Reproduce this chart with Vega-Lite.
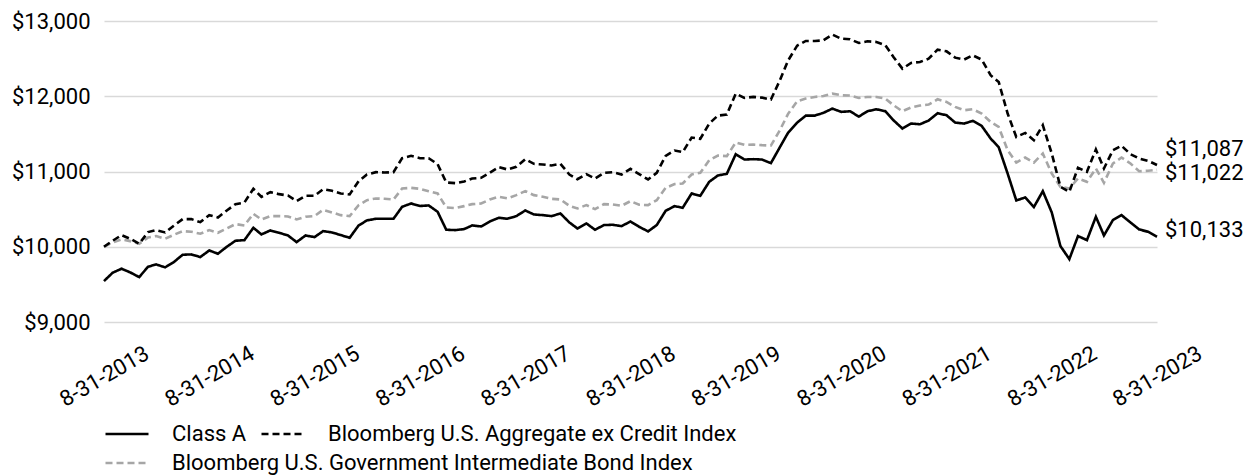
{
  "$schema": "https://vega.github.io/schema/vega-lite/v6.json",
  "autosize": "none",
  "width": 1053,
  "height": 301,
  "padding": {"left": 104, "top": 21, "right": 93, "bottom": 154},
  "background": "white",
  "config": {"font": "Roboto", "view": {"stroke": null}},
  "data": {"values": [
    {"d":"2013-08-31","A":9544,"B":10000,"G":10000},
    {"d":"2013-09-30","A":9655,"B":10080,"G":10058},
    {"d":"2013-10-31","A":9708,"B":10155,"G":10097},
    {"d":"2013-11-30","A":9659,"B":10106,"G":10075},
    {"d":"2013-12-31","A":9597,"B":10040,"G":10040},
    {"d":"2014-01-31","A":9735,"B":10195,"G":10124},
    {"d":"2014-02-28","A":9765,"B":10221,"G":10142},
    {"d":"2014-03-31","A":9726,"B":10190,"G":10106},
    {"d":"2014-04-30","A":9796,"B":10279,"G":10159},
    {"d":"2014-05-31","A":9894,"B":10367,"G":10208},
    {"d":"2014-06-30","A":9898,"B":10367,"G":10199},
    {"d":"2014-07-31","A":9863,"B":10327,"G":10173},
    {"d":"2014-08-31","A":9951,"B":10420,"G":10221},
    {"d":"2014-09-30","A":9907,"B":10389,"G":10186},
    {"d":"2014-10-31","A":10000,"B":10482,"G":10243},
    {"d":"2014-11-30","A":10080,"B":10566,"G":10301},
    {"d":"2014-12-31","A":10088,"B":10588,"G":10283},
    {"d":"2015-01-31","A":10252,"B":10770,"G":10438},
    {"d":"2015-02-28","A":10164,"B":10664,"G":10363},
    {"d":"2015-03-31","A":10217,"B":10726,"G":10407},
    {"d":"2015-04-30","A":10186,"B":10699,"G":10407},
    {"d":"2015-05-31","A":10150,"B":10681,"G":10403},
    {"d":"2015-06-30","A":10062,"B":10606,"G":10363},
    {"d":"2015-07-31","A":10150,"B":10677,"G":10398},
    {"d":"2015-08-31","A":10128,"B":10677,"G":10407},
    {"d":"2015-09-30","A":10208,"B":10765,"G":10491},
    {"d":"2015-10-31","A":10190,"B":10743,"G":10456},
    {"d":"2015-11-30","A":10155,"B":10708,"G":10420},
    {"d":"2015-12-31","A":10119,"B":10695,"G":10407},
    {"d":"2016-01-31","A":10283,"B":10872,"G":10553},
    {"d":"2016-02-29","A":10350,"B":10960,"G":10619},
    {"d":"2016-03-31","A":10372,"B":10991,"G":10642},
    {"d":"2016-04-30","A":10372,"B":10987,"G":10637},
    {"d":"2016-05-31","A":10372,"B":10991,"G":10628},
    {"d":"2016-06-30","A":10531,"B":11177,"G":10774},
    {"d":"2016-07-31","A":10575,"B":11208,"G":10783},
    {"d":"2016-08-31","A":10542,"B":11177,"G":10770},
    {"d":"2016-09-30","A":10549,"B":11177,"G":10739},
    {"d":"2016-10-31","A":10465,"B":11097,"G":10708},
    {"d":"2016-11-30","A":10226,"B":10854,"G":10522},
    {"d":"2016-12-31","A":10221,"B":10845,"G":10513},
    {"d":"2017-01-31","A":10235,"B":10867,"G":10540},
    {"d":"2017-02-28","A":10283,"B":10907,"G":10566},
    {"d":"2017-03-31","A":10270,"B":10916,"G":10575},
    {"d":"2017-04-30","A":10336,"B":10982,"G":10628},
    {"d":"2017-05-31","A":10385,"B":11058,"G":10664},
    {"d":"2017-06-30","A":10372,"B":11027,"G":10642},
    {"d":"2017-07-31","A":10407,"B":11062,"G":10686},
    {"d":"2017-08-31","A":10482,"B":11164,"G":10739},
    {"d":"2017-09-30","A":10429,"B":11102,"G":10686},
    {"d":"2017-10-31","A":10420,"B":11093,"G":10664},
    {"d":"2017-11-30","A":10407,"B":11080,"G":10637},
    {"d":"2017-12-31","A":10442,"B":11102,"G":10628},
    {"d":"2018-01-31","A":10323,"B":10960,"G":10544},
    {"d":"2018-02-28","A":10243,"B":10898,"G":10509},
    {"d":"2018-03-31","A":10310,"B":10965,"G":10553},
    {"d":"2018-04-30","A":10226,"B":10907,"G":10500},
    {"d":"2018-05-31","A":10288,"B":10982,"G":10566},
    {"d":"2018-06-30","A":10292,"B":10991,"G":10562},
    {"d":"2018-07-31","A":10274,"B":10960,"G":10544},
    {"d":"2018-08-31","A":10336,"B":11035,"G":10606},
    {"d":"2018-09-30","A":10265,"B":10965,"G":10558},
    {"d":"2018-10-31","A":10204,"B":10894,"G":10553},
    {"d":"2018-11-30","A":10288,"B":10982,"G":10619},
    {"d":"2018-12-31","A":10478,"B":11208,"G":10783},
    {"d":"2019-01-31","A":10540,"B":11279,"G":10832},
    {"d":"2019-02-28","A":10518,"B":11257,"G":10841},
    {"d":"2019-03-31","A":10708,"B":11451,"G":10960},
    {"d":"2019-04-30","A":10677,"B":11434,"G":10982},
    {"d":"2019-05-31","A":10863,"B":11637,"G":11150},
    {"d":"2019-06-30","A":10947,"B":11743,"G":11212},
    {"d":"2019-07-31","A":10969,"B":11757,"G":11204},
    {"d":"2019-08-31","A":11230,"B":12035,"G":11385},
    {"d":"2019-09-30","A":11159,"B":11978,"G":11354},
    {"d":"2019-10-31","A":11164,"B":11991,"G":11358},
    {"d":"2019-11-30","A":11159,"B":11982,"G":11350},
    {"d":"2019-12-31","A":11111,"B":11956,"G":11345},
    {"d":"2020-01-31","A":11323,"B":12212,"G":11549},
    {"d":"2020-02-29","A":11518,"B":12478,"G":11770},
    {"d":"2020-03-31","A":11650,"B":12673,"G":11934},
    {"d":"2020-04-30","A":11743,"B":12735,"G":11969},
    {"d":"2020-05-31","A":11743,"B":12735,"G":11991},
    {"d":"2020-06-30","A":11779,"B":12743,"G":12004},
    {"d":"2020-07-31","A":11836,"B":12819,"G":12035},
    {"d":"2020-08-31","A":11792,"B":12765,"G":12013},
    {"d":"2020-09-30","A":11801,"B":12757,"G":12009},
    {"d":"2020-10-31","A":11730,"B":12708,"G":11978},
    {"d":"2020-11-30","A":11801,"B":12730,"G":11991},
    {"d":"2020-12-31","A":11827,"B":12721,"G":11991},
    {"d":"2021-01-31","A":11801,"B":12677,"G":11969},
    {"d":"2021-02-28","A":11681,"B":12522,"G":11881},
    {"d":"2021-03-31","A":11571,"B":12367,"G":11801},
    {"d":"2021-04-30","A":11637,"B":12442,"G":11850},
    {"d":"2021-05-31","A":11628,"B":12456,"G":11876},
    {"d":"2021-06-30","A":11677,"B":12500,"G":11889},
    {"d":"2021-07-31","A":11774,"B":12619,"G":11960},
    {"d":"2021-08-31","A":11748,"B":12597,"G":11925},
    {"d":"2021-09-30","A":11650,"B":12513,"G":11858},
    {"d":"2021-10-31","A":11637,"B":12487,"G":11814},
    {"d":"2021-11-30","A":11673,"B":12544,"G":11827},
    {"d":"2021-12-31","A":11606,"B":12487,"G":11770},
    {"d":"2022-01-31","A":11438,"B":12279,"G":11659},
    {"d":"2022-02-28","A":11323,"B":12190,"G":11593},
    {"d":"2022-03-31","A":10973,"B":11770,"G":11283},
    {"d":"2022-04-30","A":10615,"B":11460,"G":11119},
    {"d":"2022-05-31","A":10655,"B":11513,"G":11186},
    {"d":"2022-06-30","A":10527,"B":11416,"G":11119},
    {"d":"2022-07-31","A":10739,"B":11615,"G":11239},
    {"d":"2022-08-31","A":10456,"B":11239,"G":10973},
    {"d":"2022-09-30","A":10009,"B":10796,"G":10796},
    {"d":"2022-10-31","A":9836,"B":10730,"G":10774},
    {"d":"2022-11-30","A":10142,"B":11049,"G":10907},
    {"d":"2022-12-31","A":10088,"B":10996,"G":10863},
    {"d":"2023-01-31","A":10398,"B":11292,"G":11040},
    {"d":"2023-02-28","A":10150,"B":11040,"G":10850},
    {"d":"2023-03-31","A":10354,"B":11283,"G":11106},
    {"d":"2023-04-30","A":10420,"B":11341,"G":11186},
    {"d":"2023-05-31","A":10323,"B":11230,"G":11106},
    {"d":"2023-06-30","A":10230,"B":11173,"G":11004},
    {"d":"2023-07-31","A":10199,"B":11142,"G":11009},
    {"d":"2023-08-31","A":10133,"B":11087,"G":11022}
  ]},
  "transform": [{"fold": ["G", "B", "A"], "as": ["s", "v"]}],
  "encoding": {
    "x": {
      "field": "d", "type": "temporal",
      "scale": {"type": "utc", "nice": false},
      "axis": {
        "title": null, "domain": false, "ticks": false, "tickSize": 0, "grid": false,
        "values": [
          {"year": 2013, "month": 8, "date": 31, "utc": true},
          {"year": 2014, "month": 8, "date": 31, "utc": true},
          {"year": 2015, "month": 8, "date": 31, "utc": true},
          {"year": 2016, "month": 8, "date": 31, "utc": true},
          {"year": 2017, "month": 8, "date": 31, "utc": true},
          {"year": 2018, "month": 8, "date": 31, "utc": true},
          {"year": 2019, "month": 8, "date": 31, "utc": true},
          {"year": 2020, "month": 8, "date": 31, "utc": true},
          {"year": 2021, "month": 8, "date": 31, "utc": true},
          {"year": 2022, "month": 8, "date": 31, "utc": true},
          {"year": 2023, "month": 8, "date": 31, "utc": true}
        ],
        "labelExpr": "utcFormat(datum.value, '%-m-%d-%Y')",
        "labelAngle": -30, "labelAlign": "center", "labelBaseline": "middle",
        "labelPadding": 54, "labelFontSize": 22, "labelColor": "#000000",
        "labelOverlap": false, "labelFlush": false, "labelBound": false
      }
    },
    "y": {
      "field": "v", "type": "quantitative",
      "scale": {"domain": [9000, 13000], "nice": false, "zero": false},
      "axis": {
        "title": null, "domain": false, "ticks": false,
        "values": [9000, 10000, 11000, 12000, 13000],
        "format": "$,.0f", "labelFontSize": 22, "labelColor": "#000000",
        "labelPadding": 14, "gridColor": "#d9d9d9", "gridWidth": 1.5
      }
    }
  },
  "layer": [
    {
      "transform": [{"filter": "datum.s == 'G'"}],
      "mark": {"type": "line", "strokeWidth": 2.6},
      "encoding": {
        "color": {
          "field": "s", "type": "nominal",
          "scale": {"domain": ["G"], "range": ["#a6a6a6"]},
          "legend": {
            "title": null, "orient": "none", "legendX": 0, "legendY": 419,
            "direction": "horizontal",
            "symbolType": "stroke", "symbolSize": 1849, "symbolStrokeWidth": 2.5,
            "labelFontSize": 22, "labelColor": "#000000", "labelOffset": 22,
            "columnPadding": 9, "labelLimit": 0,
            "labelExpr": "'Bloomberg U.S. Government Intermediate Bond Index'"
          }
        },
        "strokeDash": {
          "field": "s", "type": "nominal",
          "scale": {"domain": ["G"], "range": [[7, 4]]},
          "legend": {
            "title": null, "orient": "none", "legendX": 0, "legendY": 419,
            "direction": "horizontal",
            "symbolType": "stroke", "symbolSize": 1849, "symbolStrokeWidth": 2.5,
            "labelFontSize": 22, "labelColor": "#000000", "labelOffset": 22,
            "columnPadding": 9, "labelLimit": 0,
            "labelExpr": "'Bloomberg U.S. Government Intermediate Bond Index'"
          }
        }
      }
    },
    {
      "transform": [{"filter": "datum.s != 'G'"}],
      "mark": {"type": "line", "strokeWidth": 2.6},
      "encoding": {
        "color": {
          "field": "s", "type": "nominal",
          "scale": {"domain": ["A", "B"], "range": ["#000000", "#000000"]},
          "legend": {
            "title": null, "orient": "none", "legendX": 0, "legendY": 390,
            "direction": "horizontal",
            "symbolType": "stroke", "symbolSize": 1849, "symbolStrokeWidth": 2.5,
            "labelFontSize": 22, "labelColor": "#000000", "labelOffset": 22,
            "columnPadding": 9, "labelLimit": 0,
            "labelExpr": "datum.label == 'A' ? 'Class A' : 'Bloomberg U.S. Aggregate ex Credit Index'"
          }
        },
        "strokeDash": {
          "field": "s", "type": "nominal",
          "scale": {"domain": ["A", "B"], "range": [[1, 0], [7, 4]]},
          "legend": {
            "title": null, "orient": "none", "legendX": 0, "legendY": 390,
            "direction": "horizontal",
            "symbolType": "stroke", "symbolSize": 1849, "symbolStrokeWidth": 2.5,
            "labelFontSize": 22, "labelColor": "#000000", "labelOffset": 22,
            "columnPadding": 9, "labelLimit": 0,
            "labelExpr": "datum.label == 'A' ? 'Class A' : 'Bloomberg U.S. Aggregate ex Credit Index'"
          }
        }
      }
    },
    {
      "transform": [{"filter": "datum.s == 'A' && datum.v == 10133"}],
      "mark": {"type": "text", "align": "left", "baseline": "alphabetic", "dx": 8, "dy": 0, "fontSize": 22, "color": "#000000"},
      "encoding": {"text": {"field": "v", "type": "quantitative", "format": "$,.0f"}}
    },
    {
      "transform": [{"filter": "datum.s == 'B' && datum.v == 11087"}],
      "mark": {"type": "text", "align": "left", "baseline": "alphabetic", "dx": 8, "dy": -9, "fontSize": 22, "color": "#000000"},
      "encoding": {"text": {"field": "v", "type": "quantitative", "format": "$,.0f"}}
    },
    {
      "transform": [{"filter": "datum.s == 'G' && datum.v == 11022"}],
      "mark": {"type": "text", "align": "left", "baseline": "alphabetic", "dx": 8, "dy": 10, "fontSize": 22, "color": "#000000"},
      "encoding": {"text": {"field": "v", "type": "quantitative", "format": "$,.0f"}}
    }
  ],
  "resolve": {
    "scale": {"color": "independent", "strokeDash": "independent"},
    "legend": {"color": "independent", "strokeDash": "independent"}
  }
}
